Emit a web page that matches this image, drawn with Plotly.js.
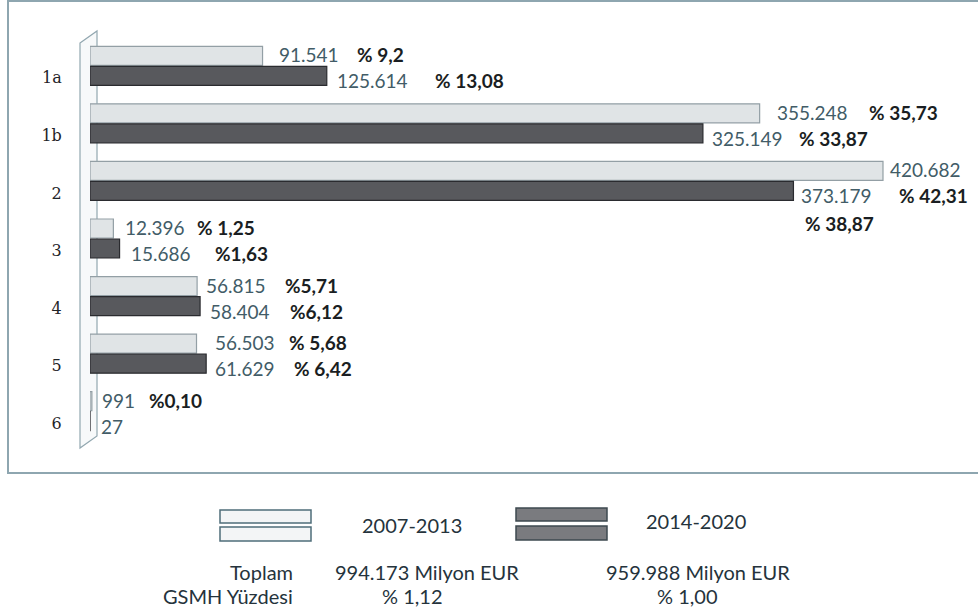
<!DOCTYPE html>
<html>
<head>
<meta charset="utf-8">
<script src="https://cdn.plot.ly/plotly-3.0.1.min.js"></script>
<style>html,body{margin:0;padding:0;background:#fff;}#chart{width:978px;height:609px;}</style>
</head>
<body>
<div id="chart"></div>
<script>
// ---- data ----
const categories = ['1a', '1b', '2', '3', '4', '5', '6'];
const series0713 = [91541, 355248, 420682, 12396, 56815, 56503, 991];      // Milyon EUR
const series1420 = [125614, 325149, 373179, 15686, 58404, 61629, 27];      // Milyon EUR
const labels0713 = ['91.541', '355.248', '420.682', '12.396', '56.815', '56.503', '991'];
const labels1420 = ['125.614', '325.149', '373.179', '15.686', '58.404', '61.629', '27'];
const pct0713 = ['% 9,2', '% 35,73', '% 42,31', '% 1,25', '%5,71', '% 5,68', '%0,10'];
const pct1420 = ['% 13,08', '% 33,87', '% 38,87', '%1,63', '%6,12', '% 6,42', ''];
const seriesNames = ['2007-2013', '2014-2020'];
const totals = ['994.173 Milyon EUR', '959.988 Milyon EUR'];
const gnpShare = ['% 1,12', '% 1,00'];

// ---- layout helpers (pixel -> paper) ----
const W = 978, H = 609, ML = 90, MR = 2, MT = 37, MB = 169;
const PW = W - ML - MR, PH = H - MT - MB;
const px = x => (x - ML) / PW;
const py = y => (H - MB - y) / PH;

// label offsets (pixels, styling only)
const valShift0713 = [14, 15, 5, 10, 7, 16, 8];
const valShift1420 = [8, 7, 6, 9, 8, 7, 9];
const pctShift0713 = [92, 107, 14, 82, 86, 90, 55];
const pctShift1420 = [106, 94, 10, 93, 88, 86, 0];

const valColor = '#425c67';
const pctColor = '#1a1e22';
const valFont = {family: 'Lato, sans-serif', size: 19, color: valColor};
const pctFont = {family: 'Lato, sans-serif', size: 19, color: pctColor};

const annotations = [];
categories.forEach((c, i) => {
  annotations.push({x: series0713[i], y: c, xref: 'x', yref: 'y', text: labels0713[i],
    showarrow: false, xanchor: 'left', yanchor: 'middle', xshift: valShift0713[i], yshift: 11, font: valFont});
  annotations.push({x: series1420[i], y: c, xref: 'x', yref: 'y', text: labels1420[i],
    showarrow: false, xanchor: 'left', yanchor: 'middle', xshift: valShift1420[i], yshift: -15, font: valFont});
  if (c === '2') {
    // percentages for this group sit on the lower rows in the original
    annotations.push({x: series0713[i], y: c, xref: 'x', yref: 'y', text: '<b>' + pct0713[i] + '</b>',
      showarrow: false, xanchor: 'left', yanchor: 'middle', xshift: pctShift0713[i], yshift: -15, font: pctFont});
    annotations.push({x: series1420[i], y: c, xref: 'x', yref: 'y', text: '<b>' + pct1420[i] + '</b>',
      showarrow: false, xanchor: 'left', yanchor: 'middle', xshift: pctShift1420[i], yshift: -43, font: pctFont});
  } else {
    annotations.push({x: series0713[i], y: c, xref: 'x', yref: 'y', text: '<b>' + pct0713[i] + '</b>',
      showarrow: false, xanchor: 'left', yanchor: 'middle', xshift: pctShift0713[i], yshift: 11, font: pctFont});
    if (pct1420[i]) {
      annotations.push({x: series1420[i], y: c, xref: 'x', yref: 'y', text: '<b>' + pct1420[i] + '</b>',
        showarrow: false, xanchor: 'left', yanchor: 'middle', xshift: pctShift1420[i], yshift: -15, font: pctFont});
    }
  }
});

// legend / summary texts
const legFont = {family: 'Lato, sans-serif', size: 20, color: '#25333c'};
annotations.push({xref: 'paper', yref: 'paper', x: px(360), y: py(525), xanchor: 'left', yanchor: 'middle',
  text: seriesNames[0], showarrow: false, font: legFont});
annotations.push({xref: 'paper', yref: 'paper', x: px(644), y: py(521), xanchor: 'left', yanchor: 'middle',
  text: seriesNames[1], showarrow: false, font: legFont});
annotations.push({xref: 'paper', yref: 'paper', x: px(295), y: py(572), xanchor: 'right', yanchor: 'middle',
  text: 'Toplam', showarrow: false, font: legFont});
annotations.push({xref: 'paper', yref: 'paper', x: px(295), y: py(596), xanchor: 'right', yanchor: 'middle',
  text: 'GSMH Yüzdesi', showarrow: false, font: legFont});
annotations.push({xref: 'paper', yref: 'paper', x: px(427), y: py(572), xanchor: 'center', yanchor: 'middle',
  text: totals[0], showarrow: false, font: legFont});
annotations.push({xref: 'paper', yref: 'paper', x: px(698), y: py(572), xanchor: 'center', yanchor: 'middle',
  text: totals[1], showarrow: false, font: legFont});
annotations.push({xref: 'paper', yref: 'paper', x: px(412), y: py(596), xanchor: 'center', yanchor: 'middle',
  text: gnpShare[0], showarrow: false, font: legFont});
annotations.push({xref: 'paper', yref: 'paper', x: px(687), y: py(596), xanchor: 'center', yanchor: 'middle',
  text: gnpShare[1], showarrow: false, font: legFont});

const rect = (x0, y0, x1, y1, fill, line, w) => ({type: 'rect', xref: 'paper', yref: 'paper',
  x0: px(x0), x1: px(x1), y0: py(y0), y1: py(y1), fillcolor: fill, line: {color: line, width: w}});

const shapes = [
  // outer frame
  {type: 'rect', xref: 'paper', yref: 'paper', x0: px(8), x1: px(995), y0: py(1), y1: py(473),
    line: {color: '#8ea6b0', width: 2}, fillcolor: 'rgba(0,0,0,0)', layer: 'below'},
  // 3D side wall
  {type: 'path', xref: 'paper', yref: 'paper', layer: 'below',
    path: `M ${px(80)} ${py(43)} L ${px(97)} ${py(31)} L ${px(97)} ${py(436)} L ${px(80)} ${py(448)} Z`,
    fillcolor: '#f7f9fa', line: {color: '#92a7b0', width: 1.2}},
  // legend swatches
  rect(220, 510, 311, 523, '#f3f5f6', '#4f6d79', 1.5),
  rect(220, 527, 311, 541, '#f3f5f6', '#4f6d79', 1.5),
  rect(516, 508, 607, 521, '#7a7b7f', '#3e4a50', 1.5),
  rect(516, 526, 607, 540, '#7a7b7f', '#3e4a50', 1.5)
];

const traces = [
  {type: 'bar', orientation: 'h', name: seriesNames[0], y: categories, x: series0713,
    marker: {color: '#e0e4e6', line: {color: '#939fa5', width: 1.2}}, hoverinfo: 'x+y'},
  {type: 'bar', orientation: 'h', name: seriesNames[1], y: categories, x: series1420,
    marker: {color: '#58595d', line: {color: '#2a2b2f', width: 1.2}}, hoverinfo: 'x+y'}
];

const layout = {
  width: W, height: H,
  margin: {l: ML, r: MR, t: MT, b: MB, pad: 0},
  paper_bgcolor: '#ffffff', plot_bgcolor: 'rgba(0,0,0,0)',
  showlegend: false,
  barmode: 'group', bargap: 0.305, bargroupgap: 0.05,
  xaxis: {range: [0, PW / 1.885 * 1000], visible: false, fixedrange: true},
  yaxis: {type: 'category', autorange: 'reversed', showgrid: false, zeroline: false, showline: false,
    ticks: 'outside', ticklen: 0, ticklabelstandoff: 24, ticklabelshift: -12,
    tickfont: {family: 'DejaVu Serif, serif', size: 16, color: '#1f2428'}},
  annotations: annotations,
  shapes: shapes
};

Plotly.newPlot('chart', traces, layout, {displayModeBar: false, staticPlot: true});
</script>
</body>
</html>
